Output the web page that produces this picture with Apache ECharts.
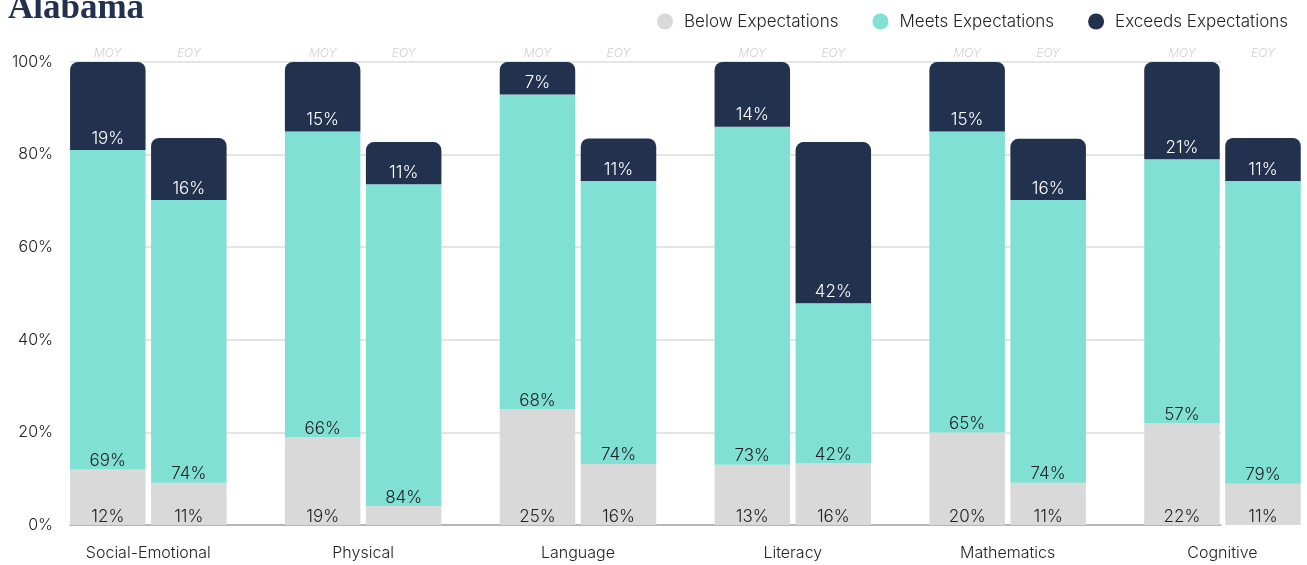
<!DOCTYPE html>
<html>
<head>
<meta charset="utf-8">
<script src="https://cdn.jsdelivr.net/npm/echarts@6/dist/echarts.min.js"></script>
<style>
html,body{margin:0;padding:0;background:#fff;overflow:hidden;}
#chart{width:1331px;height:565px;}
</style>
</head>
<body>
<div id="chart"></div>
<script>
// ---- data ----
const title = 'Alabama';
const categories = ['Social-Emotional', 'Physical', 'Language', 'Literacy', 'Mathematics', 'Cognitive'];
const seriesNames = ['Below Expectations', 'Meets Expectations', 'Exceeds Expectations'];
const periodLabels = ['MOY', 'EOY'];
const yTicks = [0, 20, 40, 60, 80, 100];

// MOY bar heights (= labelled percentages)
const moyBelow   = [12, 19, 25, 13, 20, 22];
const moyMeets   = [69, 66, 68, 73, 65, 57];
const moyExceeds = [19, 15, 7, 14, 15, 21];

// EOY bar heights (bars are shorter than their labels)
const eoyBelowH   = [9.1, 4.1, 13.2, 13.4, 9.1, 8.9];
const eoyMeetsH   = [61.1, 69.5, 61.1, 34.5, 61.1, 65.4];
const eoyExceedsH = [13.4, 9.1, 9.2, 34.8, 13.2, 9.3];

// EOY printed labels
const eoyBelowLbl   = [11, null, 16, 16, 11, 11];
const eoyMeetsLbl   = [74, 84, 74, 42, 74, 79];
const eoyExceedsLbl = [16, 11, 11, 42, 16, 11];

// ---- chart ----
const FONT = 'Inter, Lato, sans-serif';
const colors = ['#d9d9d9', '#80e0d4', '#22314e'];
const chart = echarts.init(document.getElementById('chart'), null, {renderer: 'canvas'});

const BAR_W = 75.5;
const GAP = 7.3; // percent
const EXTRA = 24; // container wider than the visible window on the right

function mkSeries(name, stack, heights, labels, idx) {
  const isTop = idx === 2;
  return {
    name: name,
    type: 'bar',
    stack: stack,
    xAxisIndex: 1,
    yAxisIndex: 1,
    barWidth: BAR_W,
    barGap: GAP + '%',
    itemStyle: {color: colors[idx], borderRadius: isTop ? [8, 8, 0, 0] : 0},
    emphasis: {disabled: true},
    label: {
      show: true,
      position: 'insideBottom',
      distance: idx === 0 ? 0 : (idx === 1 ? 0 : 3),
      fontFamily: FONT,
      fontWeight: 300,
      fontSize: 17,
      color: isTop ? '#ffffff' : '#222222',
      formatter: p => labels[p.dataIndex] == null ? '' : labels[p.dataIndex] + '%'
    },
    data: heights
  };
}

const series = [
  mkSeries(seriesNames[0], 'moy', moyBelow, moyBelow, 0),
  mkSeries(seriesNames[1], 'moy', moyMeets, moyMeets, 1),
  mkSeries(seriesNames[2], 'moy', moyExceeds, moyExceeds, 2),
  mkSeries(seriesNames[0], 'eoy', eoyBelowH, eoyBelowLbl, 0),
  mkSeries(seriesNames[1], 'eoy', eoyMeetsH, eoyMeetsLbl, 1),
  mkSeries(seriesNames[2], 'eoy', eoyExceedsH, eoyExceedsLbl, 2),
  {
    type: 'custom',
    xAxisIndex: 1,
    yAxisIndex: 1,
    silent: true,
    data: categories.map((c, i) => [i, 100]),
    renderItem: function (params, api) {
      const pt = api.coord([api.value(0), api.value(1)]);
      const off = (BAR_W + BAR_W * GAP / 100) / 2;
      return {
        type: 'group',
        children: periodLabels.map((t, k) => ({
          type: 'text',
          x: pt[0] + (k === 0 ? -off : off),
          y: pt[1] - 9,
          style: {
            text: t, fill: '#d0d0d0', fontFamily: FONT, fontSize: 12, fontStyle: 'italic', fontWeight: 300,
            align: 'center', verticalAlign: 'middle'
          }
        }))
      };
    }
  }
];

chart.setOption({
  animation: false,
  textStyle: {fontFamily: FONT},
  title: {
    text: title, left: 3, top: -14,
    textStyle: {fontFamily: '"Liberation Serif", "DejaVu Serif", serif', fontWeight: 'bold', fontSize: 35, color: '#22314e'}
  },
  legend: {
    data: seriesNames,
    right: 14 + EXTRA, top: 8,
    icon: 'circle', itemWidth: 16, itemHeight: 16, itemGap: 34,
    textStyle: {fontFamily: FONT, fontWeight: 300, fontSize: 17, color: '#222', padding: [0, 0, 0, 6]}
  },
  grid: [
    {left: 70, right: 86 + EXTRA, top: 62, bottom: 40, containLabel: false},
    {left: 40.9, right: EXTRA - 22.9, top: 62, bottom: 40, containLabel: false}
  ],
  xAxis: [
    {gridIndex: 0, type: 'value', min: 0, max: 1, axisLabel: {show: false}, axisTick: {show: false},
     splitLine: {show: false}, axisLine: {show: true, lineStyle: {color: '#a6a6a6', width: 1.5}}},
    {gridIndex: 1, type: 'category', data: categories, axisLine: {show: false}, axisTick: {show: false},
     axisLabel: {fontFamily: FONT, fontWeight: 300, fontSize: 16, color: '#222', margin: 20}}
  ],
  yAxis: [
    {gridIndex: 0, type: 'value', min: yTicks[0], max: yTicks[yTicks.length - 1], interval: 20,
     axisLine: {show: false}, axisTick: {show: false},
     axisLabel: {formatter: '{value}%', fontFamily: FONT, fontWeight: 300, fontSize: 16, color: '#222', margin: 17},
     splitLine: {lineStyle: {color: '#dcdcdc', width: 1.5}}},
    {gridIndex: 1, type: 'value', min: 0, max: 100, show: false, splitLine: {show: false}}
  ],
  series: series
});
</script>
</body>
</html>
